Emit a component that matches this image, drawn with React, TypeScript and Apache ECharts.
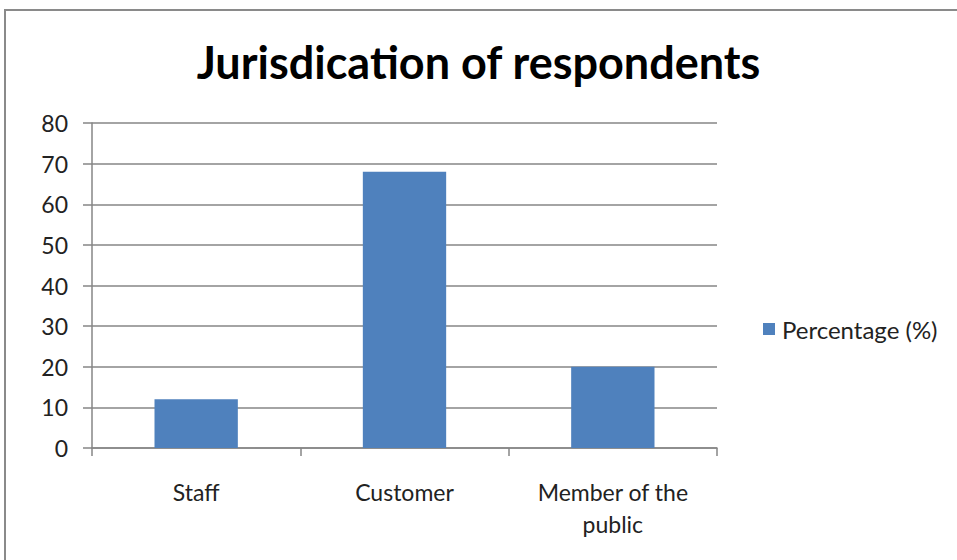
import React, { useEffect, useRef } from "react";
import * as echarts from "echarts";

const categories = ["Staff", "Customer", "Member of the public"];
const percentages = [12, 68, 20];
const seriesName = "Percentage (%)";
const titleText = "Jurisdication of respondents";

export default function App() {
  const ref = useRef<HTMLDivElement>(null);
  useEffect(() => {
    if (!ref.current) return;
    const chart = echarts.init(ref.current, null, { renderer: "svg" });
    const font = "Lato, 'Open Sans', sans-serif";
    chart.setOption({
      animation: false,
      backgroundColor: "#ffffff",
      graphic: [
        {
          type: "rect",
          shape: { x: 5, y: 10, width: 1000, height: 600 },
          style: { fill: "none", stroke: "#8a8a8a", lineWidth: 2 },
          z: 0,
        },
      ],
      title: {
        text: titleText,
        left: "center",
        top: 34,
        textStyle: { fontFamily: font, fontWeight: "bold", fontSize: 45, color: "#000000" },
      },
      legend: {
        orient: "vertical",
        left: 758,
        top: 312,
        itemWidth: 12,
        itemHeight: 12,
        itemGap: 8,
        icon: "rect",
        textStyle: { fontFamily: font, fontSize: 24, color: "#222222", padding: [0, 0, 0, 2] },
        data: [seriesName],
      },
      grid: { left: 92, right: 240, top: 123, bottom: 112, containLabel: false },
      xAxis: {
        type: "category",
        data: categories,
        axisLine: { show: true, lineStyle: { color: "#868686", width: 1.5 } },
        axisTick: { show: true, length: 8, alignWithLabel: false, lineStyle: { color: "#868686", width: 1.5 } },
        axisLabel: {
          margin: 28,
          fontFamily: font,
          fontSize: 23,
          color: "#222222",
          lineHeight: 32,
          formatter: (v: string) => (v === "Member of the public" ? "Member of the\npublic" : v),
        },
      },
      yAxis: {
        type: "value",
        min: 0,
        max: 80,
        interval: 10,
        axisLine: { show: true, lineStyle: { color: "#868686", width: 1.5 } },
        axisTick: { show: true, length: 9, lineStyle: { color: "#868686", width: 1.5 } },
        splitLine: { show: true, lineStyle: { color: "#868686", width: 1.5 } },
        axisLabel: { margin: 24, fontFamily: font, fontSize: 23, color: "#222222" },
      },
      series: [
        {
          name: seriesName,
          type: "bar",
          data: percentages,
          barWidth: "40%",
          itemStyle: { color: "#4f81bd" },
        },
      ],
    });
    return () => chart.dispose();
  }, []);
  return (
    <div
      ref={ref}
      style={{ position: "fixed", left: 0, top: 0, width: 957, height: 560 }}
    />
  );
}
